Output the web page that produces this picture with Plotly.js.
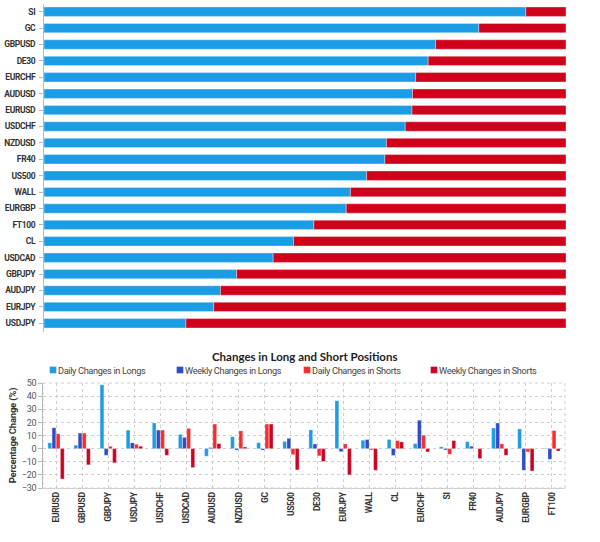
<!DOCTYPE html>
<html>
<head>
<meta charset="utf-8">
<script src="https://cdn.plot.ly/plotly-3.0.1.min.js"></script>
<style>
html,body{margin:0;padding:0;background:#fff;}
#chart{width:600px;height:542px;}
#chart .ytick text, #chart .x2tick text{letter-spacing:-0.35px;}
#chart .legendtext{letter-spacing:-0.35px;}
#chart .y2title{letter-spacing:-0.2px;}
#chart .y2tick text{letter-spacing:-0.3px;}
#chart g.scrollbox{clip-path:none !important;}
#chart .legendpoints path{transform:translate(35px,0) scale(0.56);}
</style>
</head>
<body>
<div id="chart"></div>
<script>
// Top chart: share of long positions (%) per instrument
const sentimentSymbols = ["SI","GC","GBPUSD","DE30","EURCHF","AUDUSD","EURUSD","USDCHF","NZDUSD","FR40","US500","WALL","EURGBP","FT100","CL","USDCAD","GBPJPY","AUDJPY","EURJPY","USDJPY"];
const longPct = [92.3,83.3,75.0,73.6,71.2,70.6,70.5,69.2,65.6,65.3,61.8,58.7,57.9,51.7,47.8,43.9,36.9,33.8,32.5,27.2];
const shortPct = longPct.map(v => +(100 - v).toFixed(1));

// Bottom chart: changes in long and short positions (%)
const changeSymbols = ["EURUSD","GBPUSD","GBPJPY","USDJPY","USDCHF","USDCAD","AUDUSD","NZDUSD","GC","US500","DE30","EURJPY","WALL","CL","EURCHF","SI","FR40","AUDJPY","EURGBP","FT100"];
const dailyLongs   = [4.4, 2.6, 48.6, 14.1, 19.5, 10.8, -5.8, 9.1, 4.5, 5.5, 14.3, 36.5, 6.4, 6.9, 3.8, 1.3, 5.3, 15.7, 15.0, 0.3];
const weeklyLongs  = [15.9, 11.8, -5.1, 4.4, 14.1, 8.5, 0.8, -1.1, -1.1, 7.8, 3.5, -2.3, 6.9, -5.2, 21.6, -1.0, 1.8, 19.5, -16.5, -8.1];
const dailyShorts  = [11.3, 11.8, 1.8, 3.3, 14.1, 15.4, 18.7, 13.5, 18.7, -4.6, -5.5, 3.5, -1.0, 6.1, 10.2, -4.3, 0.0, 3.6, -2.5, 13.7];
const weeklyShorts = [-23.1, -12.3, -10.8, 1.8, -5.1, -14.4, 3.8, 1.2, 18.7, -16.2, -9.8, -20.0, -16.5, 5.1, -2.5, 6.1, -7.6, -5.1, -17.0, -1.8];

const narrow = "Roboto, 'Liberation Sans', sans-serif";
const W = 600, H = 542;
const px = v => v / W, py = v => 1 - v / H;

const traces = [
  {type:'bar', orientation:'h', y:sentimentSymbols, x:longPct, xaxis:'x', yaxis:'y',
   offsetgroup:'s', marker:{color:'#1b9de5', line:{color:'rgba(255,255,255,0.6)', width:0.6}},
   showlegend:false, name:'Long', hoverinfo:'x+y'},
  {type:'bar', orientation:'h', y:sentimentSymbols, x:shortPct, base:longPct, xaxis:'x', yaxis:'y',
   offsetgroup:'s', marker:{color:'#d0021b', line:{color:'rgba(255,255,255,0.6)', width:0.6}},
   showlegend:false, name:'Short', hoverinfo:'x+y'},
  {type:'bar', x:changeSymbols, y:dailyLongs, xaxis:'x2', yaxis:'y2', name:'Daily Changes in Longs',
   marker:{color:'#1f9be3', line:{color:'rgba(255,255,255,0.5)', width:0.5}}},
  {type:'bar', x:changeSymbols, y:weeklyLongs, xaxis:'x2', yaxis:'y2', name:'Weekly Changes in Longs',
   marker:{color:'#2f4bc5', line:{color:'rgba(255,255,255,0.5)', width:0.5}}},
  {type:'bar', x:changeSymbols, y:dailyShorts, xaxis:'x2', yaxis:'y2', name:'Daily Changes in Shorts',
   marker:{color:'#fb2a2e', line:{color:'rgba(255,255,255,0.5)', width:0.5}}},
  {type:'bar', x:changeSymbols, y:weeklyShorts, xaxis:'x2', yaxis:'y2', name:'Weekly Changes in Shorts',
   marker:{color:'#cc0424', line:{color:'rgba(255,255,255,0.5)', width:0.5}}}
];

const layout = {
  width: W, height: H,
  margin: {l:0, r:0, t:0, b:0},
  paper_bgcolor:'#fff', plot_bgcolor:'#fff',
  barmode:'group', bargap:0.36, bargroupgap:0.1,
  showlegend:true,
  legend:{orientation:'h', x:px(18), xanchor:'left', y:py(370), yanchor:'middle',
          font:{family:narrow, size:9.2, color:'#444'}, itemwidth:30, entrywidth:82, entrywidthmode:'pixels',
          bgcolor:'rgba(0,0,0,0)'},
  xaxis:{domain:[px(44), px(566)], anchor:'y', range:[0,100], visible:false, fixedrange:true},
  yaxis:{domain:[py(331.5), py(3.5)], anchor:'x', type:'category', autorange:'reversed',
         showline:true, linecolor:'#b8b8b8', linewidth:1, ticks:'outside', ticklen:4, tickcolor:'#b8b8b8',
         showgrid:false, zeroline:false, ticklabelstandoff:2,
         tickfont:{family:narrow, size:8.5, color:'#333', weight:'bold'}},
  xaxis2:{domain:[px(43), px(565)], anchor:'y2', type:'category',
          showline:true, linecolor:'#d0d0d0', linewidth:1, ticks:'', showgrid:true,
          gridcolor:'#cfcfcf', griddash:'dot', gridwidth:1, tickangle:-90,
          tickfont:{family:narrow, size:8.5, color:'#333', weight:'bold'}},
  yaxis2:{domain:[py(488), py(383)], anchor:'x2', range:[-30,50], dtick:10,
          showline:true, linecolor:'#b8b8b8', linewidth:1, ticks:'outside', ticklen:4, tickcolor:'#b8b8b8',
          showgrid:true, gridcolor:'#cfcfcf', griddash:'dot', gridwidth:1, zeroline:false,
          tickfont:{family:narrow, size:9, color:'#555'},
          title:{text:'Percentage Change (%)', standoff:2,
                 font:{family:narrow, size:9.5, color:'#333', weight:'bold'}}},
  annotations:[
    {text:'Changes in Long and Short Positions', xref:'paper', yref:'paper', x:px(305), y:py(356),
     xanchor:'center', yanchor:'middle', showarrow:false,
     font:{family:"Lato, 'Noto Sans', sans-serif", size:11.5, color:'#222', weight:'bold'}}
  ],
  shapes:[
    {type:'rect', xref:'paper', yref:'paper', x0:px(43), x1:px(565), y0:py(488), y1:py(383),
     line:{color:'#cfcfcf', width:1, dash:'dot'}, layer:'below'}
  ]
};

Plotly.newPlot('chart', traces, layout, {displayModeBar:false, staticPlot:true});
</script>
</body>
</html>
